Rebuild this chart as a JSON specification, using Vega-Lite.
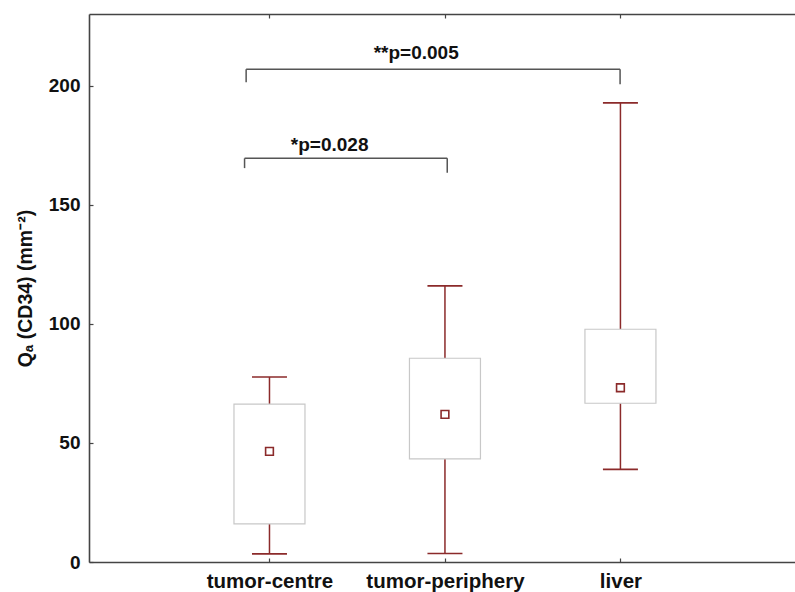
{
  "$schema": "https://vega.github.io/schema/vega-lite/v6.json",
  "width": 706,
  "height": 548,
  "autosize": {"type": "none"},
  "padding": {"left": 89, "top": 14, "right": 0, "bottom": 30},
  "background": "white",
  "config": {
    "view": {"stroke": null},
    "font": "Liberation Sans",
    "axis": {
      "labelFont": "Liberation Sans",
      "labelFontWeight": "bold",
      "labelFontSize": 19,
      "labelColor": "#111",
      "titleFont": "Liberation Sans",
      "titleFontWeight": "bold",
      "titleFontSize": 19.5,
      "titleColor": "#111",
      "domainColor": "#444",
      "domainWidth": 1.6,
      "tickColor": "#444",
      "tickWidth": 1.2,
      "grid": false
    }
  },
  "datasets": {
    "boxes": [
      {"group": "tumor-centre", "pos": 1, "lo": 3.4, "q1": 16.0, "med": 46.5, "q3": 66.3, "hi": 77.7},
      {"group": "tumor-periphery", "pos": 2, "lo": 3.6, "q1": 43.3, "med": 62.0, "q3": 85.6, "hi": 116.0},
      {"group": "liver", "pos": 3, "lo": 38.9, "q1": 66.7, "med": 73.2, "q3": 97.8, "hi": 192.9}
    ],
    "brackets": [
      {"x1": 0.858, "x2": 2.013, "y": 169.6, "label": "*p=0.028", "lx": 1.343, "ly": 172.8},
      {"x1": 0.867, "x2": 2.998, "y": 207.0, "label": "**p=0.005", "lx": 1.836, "ly": 211.2}
    ],
    "legs": [
      {"x": 0.858, "top": 169.6, "bottom": 165.5},
      {"x": 2.013, "top": 169.6, "bottom": 163.6},
      {"x": 0.867, "top": 207.0, "bottom": 201.6},
      {"x": 2.998, "top": 207.0, "bottom": 200.7}
    ]
  },
  "resolve": {"axis": {"x": "independent"}},
  "layer": [
    {
      "layer": [
        {
          "data": {"name": "boxes"},
          "mark": {"type": "rule", "color": "#8B2A2A", "strokeWidth": 1.5},
          "encoding": {
            "x": {
              "field": "pos", "type": "quantitative",
              "scale": {"domain": [0, 3.9663], "nice": false, "zero": false},
              "axis": {
                "orient": "bottom",
                "title": null,
                "values": [1, 2, 3],
                "labelExpr": "datum.value == 1 ? 'tumor-centre' : datum.value == 2 ? 'tumor-periphery' : 'liver'",
                "tickSize": -4,
                "labelPadding": 13,
                "labelFontSize": 20.5,
                "labelBaseline": "top"
              }
            },
            "y": {
              "field": "lo", "type": "quantitative",
              "scale": {"domain": [0, 230.25], "nice": false, "zero": false},
              "axis": {
                "title": "Qₐ (CD34) (mm⁻²)",
                "values": [0, 50, 100, 150, 200],
                "tickSize": -4,
                "labelPadding": 13,
                "titlePadding": 13
              }
            },
            "y2": {"field": "q1"}
          }
        },
        {
          "data": {"name": "boxes"},
          "mark": {"type": "rule", "color": "#8B2A2A", "strokeWidth": 1.5},
          "encoding": {
            "x": {"field": "pos", "type": "quantitative"},
            "y": {"field": "q3", "type": "quantitative"},
            "y2": {"field": "hi"}
          }
        },
        {
          "data": {"name": "boxes"},
          "mark": {"type": "tick", "orient": "horizontal", "color": "#8B2A2A", "size": 35, "thickness": 1.6, "opacity": 1},
          "encoding": {
            "x": {"field": "pos", "type": "quantitative"},
            "y": {"field": "lo", "type": "quantitative"}
          }
        },
        {
          "data": {"name": "boxes"},
          "mark": {"type": "tick", "orient": "horizontal", "color": "#8B2A2A", "size": 35, "thickness": 1.6, "opacity": 1},
          "encoding": {
            "x": {"field": "pos", "type": "quantitative"},
            "y": {"field": "hi", "type": "quantitative"}
          }
        },
        {
          "data": {"name": "boxes"},
          "mark": {"type": "bar", "width": 71, "fill": "white", "stroke": "#c8c8c8", "strokeWidth": 1.2},
          "encoding": {
            "x": {"field": "pos", "type": "quantitative"},
            "y": {"field": "q1", "type": "quantitative"},
            "y2": {"field": "q3"}
          }
        },
        {
          "data": {"name": "boxes"},
          "mark": {"type": "point", "shape": "square", "size": 60, "filled": false, "stroke": "#8B2A2A", "strokeWidth": 1.6, "opacity": 1},
          "encoding": {
            "x": {"field": "pos", "type": "quantitative"},
            "y": {"field": "med", "type": "quantitative"}
          }
        },
        {
          "data": {"name": "legs"},
          "mark": {"type": "rule", "color": "#555", "strokeWidth": 1.5},
          "encoding": {
            "x": {"field": "x", "type": "quantitative"},
            "y": {"field": "top", "type": "quantitative"},
            "y2": {"field": "bottom"}
          }
        },
        {
          "data": {"name": "brackets"},
          "mark": {"type": "text", "font": "Liberation Sans", "fontWeight": "bold", "fontSize": 19, "color": "#111", "baseline": "alphabetic", "align": "center"},
          "encoding": {
            "x": {"field": "lx", "type": "quantitative"},
            "y": {"field": "ly", "type": "quantitative"},
            "text": {"field": "label"}
          }
        }
      ]
    },
    {
      "data": {"name": "brackets"},
      "mark": {"type": "rule", "color": "#555", "strokeWidth": 1.5},
      "encoding": {
        "x": {
          "field": "x1", "type": "quantitative",
          "axis": {"orient": "top", "title": null, "labels": false, "values": [1, 2, 3], "tickSize": -4}
        },
        "x2": {"field": "x2"},
        "y": {"field": "y", "type": "quantitative"}
      }
    }
  ]
}
